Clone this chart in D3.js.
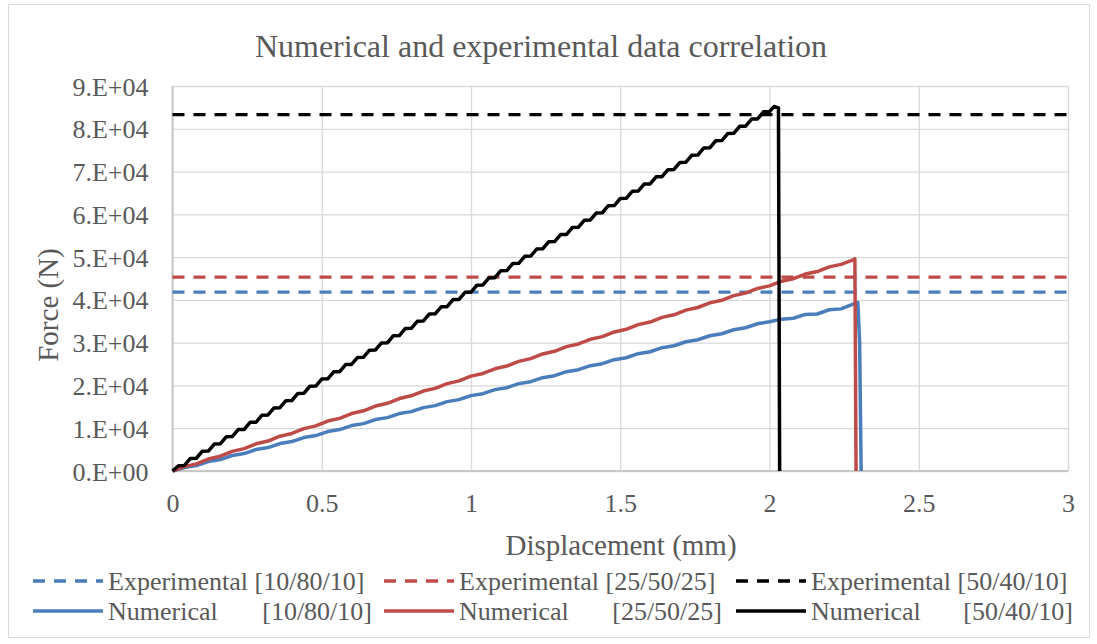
<!DOCTYPE html>
<html>
<head>
<meta charset="utf-8">
<script src="https://cdn.jsdelivr.net/npm/d3@7"></script>
<style>
  html, body { margin: 0; padding: 0; background: #fff; }
  svg { display: block; }
  text { font-family: "Liberation Serif", "Times New Roman", serif; fill: #595959; }
</style>
</head>
<body>
<svg id="chart" width="1097" height="644"></svg>
<script>
// ---------------- DATA ----------------
const chartTitle = "Numerical and experimental data correlation";
const xAxisTitle = "Displacement (mm)";
const yAxisTitle = "Force (N)";

const xTickValues = [0, 0.5, 1, 1.5, 2, 2.5, 3];
const xTickLabels = ["0", "0.5", "1", "1.5", "2", "2.5", "3"];
const yTickValues = [0, 10000, 20000, 30000, 40000, 50000, 60000, 70000, 80000, 90000];
const yTickLabels = ["0.E+00", "1.E+04", "2.E+04", "3.E+04", "4.E+04", "5.E+04", "6.E+04", "7.E+04", "8.E+04", "9.E+04"];

// Experimental (constant) forces, N
const expLabels = ["Experimental [10/80/10]", "Experimental [25/50/25]", "Experimental [50/40/10]"];
const expForce = [41800, 45300, 83300];

// Numerical curves: displacement (mm) and force (kN)
const numBlueDisp = [0,0.04,0.08,0.12,0.16,0.20,0.24,0.28,0.32,0.36,0.40,0.44,0.48,0.52,0.56,0.60,0.64,0.68,0.72,0.76,0.80,0.84,0.88,0.92,0.96,1.00,1.04,1.08,1.12,1.16,1.20,1.24,1.28,1.32,1.36,1.40,1.44,1.48,1.52,1.56,1.60,1.64,1.68,1.72,1.76,1.80,1.84,1.88,1.92,1.96,2.00,2.04,2.08,2.12,2.16,2.20,2.24,2.28,2.296,2.302,2.307];
const numBlueForce = [0,0.82,1.28,2.22,2.68,3.62,4.08,5.02,5.48,6.42,6.88,7.82,8.28,9.22,9.68,10.62,11.08,12.02,12.48,13.42,13.88,14.82,15.28,16.22,16.68,17.62,18.08,19.02,19.48,20.42,20.88,21.82,22.28,23.22,23.68,24.62,25.08,26.02,26.48,27.42,27.88,28.82,29.28,30.22,30.68,31.62,32.08,33.02,33.48,34.42,34.88,35.5,35.7,36.6,36.7,37.7,37.9,39.0,39.4,30.0,0];

const numRedDisp = [0,0.04,0.08,0.12,0.16,0.20,0.24,0.28,0.32,0.36,0.40,0.44,0.48,0.52,0.56,0.60,0.64,0.68,0.72,0.76,0.80,0.84,0.88,0.92,0.96,1.00,1.04,1.08,1.12,1.16,1.20,1.24,1.28,1.32,1.36,1.40,1.44,1.48,1.52,1.56,1.60,1.64,1.68,1.72,1.76,1.80,1.84,1.88,1.92,1.96,2.00,2.04,2.08,2.12,2.16,2.20,2.24,2.28,2.286,2.290];
const numRedForce = [0,1.02,1.67,2.80,3.46,4.59,5.24,6.37,7.01,8.14,8.78,9.91,10.55,11.67,12.31,13.43,14.07,15.19,15.83,16.94,17.58,18.69,19.32,20.43,21.06,22.17,22.80,23.90,24.53,25.63,26.26,27.36,27.98,29.08,29.70,30.79,31.41,32.51,33.12,34.21,34.82,35.92,36.52,37.61,38.22,39.31,39.91,40.99,41.60,42.68,43.28,44.36,44.96,46.04,46.63,47.71,48.30,49.37,49.6,0];

const numBlackDisp = [0,0.02,0.04,0.06,0.08,0.10,0.12,0.14,0.16,0.18,0.20,0.22,0.24,0.26,0.28,0.30,0.32,0.34,0.36,0.38,0.40,0.42,0.44,0.46,0.48,0.50,0.52,0.54,0.56,0.58,0.60,0.62,0.64,0.66,0.68,0.70,0.72,0.74,0.76,0.78,0.80,0.82,0.84,0.86,0.88,0.90,0.92,0.94,0.96,0.98,1.00,1.02,1.04,1.06,1.08,1.10,1.12,1.14,1.16,1.18,1.20,1.22,1.24,1.26,1.28,1.30,1.32,1.34,1.36,1.38,1.40,1.42,1.44,1.46,1.48,1.50,1.52,1.54,1.56,1.58,1.60,1.62,1.64,1.66,1.68,1.70,1.72,1.74,1.76,1.78,1.80,1.82,1.84,1.86,1.88,1.90,1.92,1.94,1.96,1.98,2.00,2.015,2.030,2.034];
const numBlackForce = [0,1.24,1.29,2.93,2.98,4.62,4.66,6.31,6.35,8.00,8.04,9.68,9.73,11.37,11.42,13.06,13.10,14.75,14.79,16.44,16.48,18.12,18.17,19.81,19.86,21.50,21.54,23.19,23.23,24.88,24.92,26.56,26.61,28.25,28.30,29.94,29.98,31.63,31.67,33.32,33.36,35.00,35.05,36.69,36.74,38.38,38.42,40.07,40.11,41.76,41.80,43.44,43.49,45.13,45.18,46.82,46.86,48.51,48.55,50.20,50.24,51.88,51.93,53.57,53.62,55.26,55.30,56.95,56.99,58.64,58.68,60.32,60.37,62.01,62.06,63.70,63.74,65.39,65.43,67.08,67.12,68.76,68.81,70.45,70.50,72.14,72.18,73.83,73.87,75.52,75.56,77.20,77.25,78.89,78.94,80.58,80.62,82.27,82.31,83.96,84.00,85.2,84.9,0];

const numLabelNames = ["Numerical", "Numerical", "Numerical"];
const numLabelCodes = ["[10/80/10]", "[25/50/25]", "[50/40/10]"];
const seriesColors = ["#4a7ebb", "#be4b48", "#000000"];

// ---------------- DRAW ----------------
const svg = d3.select("#chart");
const W = 1097, H = 644;
const plot = { left: 172.5, right: 1068, top: 86, bottom: 471 };

svg.append("rect").attr("x", 0).attr("y", 0).attr("width", W).attr("height", H).attr("fill", "#fff");
svg.append("rect").attr("x", 8.5).attr("y", 4.5).attr("width", 1081).attr("height", 633)
  .attr("fill", "none").attr("stroke", "#d9d9d9").attr("stroke-width", 1);

const x = d3.scaleLinear().domain([0, 3]).range([plot.left, plot.right]);
const y = d3.scaleLinear().domain([0, 90000]).range([plot.bottom, plot.top]);

// gridlines
const gx = svg.append("g").attr("transform", `translate(0,${plot.bottom})`)
  .call(d3.axisBottom(x).tickValues(xTickValues).tickSize(-(plot.bottom - plot.top)).tickFormat(""));
gx.select(".domain").remove();
gx.selectAll("line").attr("stroke", "#d9d9d9").attr("stroke-width", 1.3);

const gy = svg.append("g").attr("transform", `translate(${plot.left},0)`)
  .call(d3.axisLeft(y).tickValues(yTickValues).tickSize(-(plot.right - plot.left)).tickFormat(""));
gy.select(".domain").remove();
gy.selectAll("line").attr("stroke", "#d9d9d9").attr("stroke-width", 1.3);

// axis lines
svg.append("line").attr("x1", plot.left).attr("x2", plot.left).attr("y1", plot.top).attr("y2", plot.bottom)
  .attr("stroke", "#c8c8c8").attr("stroke-width", 2);
svg.append("line").attr("x1", plot.left).attr("x2", plot.right).attr("y1", plot.bottom).attr("y2", plot.bottom)
  .attr("stroke", "#c8c8c8").attr("stroke-width", 2);

// tick labels via axes
const xLab = svg.append("g").attr("transform", `translate(0,${plot.bottom})`)
  .call(d3.axisBottom(x).tickValues(xTickValues).tickSize(0).tickPadding(0)
    .tickFormat((d, i) => xTickLabels[i]));
xLab.select(".domain").remove();
xLab.selectAll("text").attr("font-size", 26).attr("dy", null).attr("y", 41)
  .style("font-family", '"Liberation Serif", serif').attr("fill", "#595959");

const yLab = svg.append("g").attr("transform", `translate(${plot.left},0)`)
  .call(d3.axisLeft(y).tickValues(yTickValues).tickSize(0).tickPadding(0)
    .tickFormat((d, i) => yTickLabels[i]));
yLab.select(".domain").remove();
yLab.selectAll("text").attr("font-size", 26).attr("x", -24).attr("dy", "0.35em")
  .style("font-family", '"Liberation Serif", serif').attr("fill", "#595959");

// titles
svg.append("text").attr("x", 541).attr("y", 57).attr("text-anchor", "middle")
  .attr("font-size", 32).text(chartTitle);
svg.append("text").attr("x", 621).attr("y", 555).attr("text-anchor", "middle")
  .attr("font-size", 29).text(xAxisTitle);
svg.append("text").attr("transform", "translate(58,305) rotate(-90)").attr("text-anchor", "middle")
  .attr("font-size", 29).text(yAxisTitle);

// experimental lines
expForce.forEach((f, i) => {
  svg.append("line").attr("x1", x(0)).attr("x2", x(3)).attr("y1", y(f)).attr("y2", y(f))
    .attr("stroke", seriesColors[i]).attr("stroke-width", 3.3).attr("stroke-dasharray", "12,9");
});

// numerical lines
const line = d3.line().x(d => x(d[0])).y(d => y(d[1] * 1000));
const numSeries = [
  d3.zip(numBlueDisp, numBlueForce),
  d3.zip(numRedDisp, numRedForce),
  d3.zip(numBlackDisp, numBlackForce)
];
numSeries.forEach((pts, i) => {
  svg.append("path").datum(pts).attr("d", line).attr("fill", "none")
    .attr("stroke", seriesColors[i]).attr("stroke-width", 3.5)
    .attr("stroke-linejoin", "round").attr("stroke-linecap", "butt");
});

// legend
const legX = [{ l0: 33, l1: 103, t: 108, e: 372 }, { l0: 384, l1: 454, t: 459, e: 722 }, { l0: 736, l1: 806, t: 811, e: 1073 }];
const row1 = 581, row2 = 611;
legX.forEach((p, i) => {
  svg.append("line").attr("x1", p.l0).attr("x2", p.l1).attr("y1", row1).attr("y2", row1)
    .attr("stroke", seriesColors[i]).attr("stroke-width", 3.3).attr("stroke-dasharray", "12,9");
  svg.append("text").attr("x", p.t).attr("y", row1).attr("dy", "0.35em").attr("font-size", 26).text(expLabels[i]);
  svg.append("line").attr("x1", p.l0).attr("x2", p.l1).attr("y1", row2).attr("y2", row2)
    .attr("stroke", seriesColors[i]).attr("stroke-width", 3.5);
  svg.append("text").attr("x", p.t).attr("y", row2).attr("dy", "0.35em").attr("font-size", 26).text(numLabelNames[i]);
  svg.append("text").attr("x", p.e).attr("y", row2).attr("dy", "0.35em").attr("font-size", 26)
    .attr("text-anchor", "end").text(numLabelCodes[i]);
});
</script>
</body>
</html>
